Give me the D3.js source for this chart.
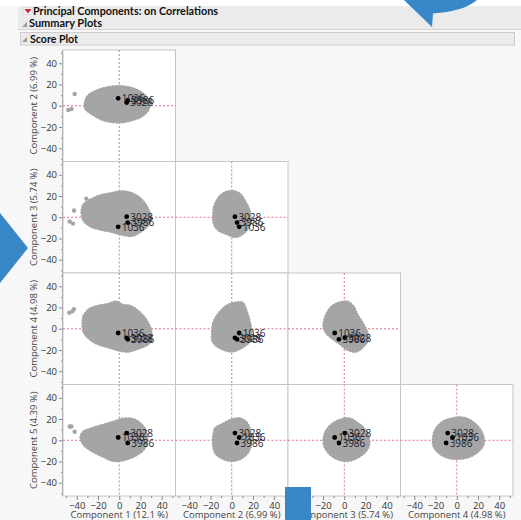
<!DOCTYPE html>
<html>
<head>
<meta charset="utf-8">
<script src="https://cdn.jsdelivr.net/npm/d3@7"></script>
<style>
  html, body { margin: 0; padding: 0; background: #ffffff; }
  svg { display: block; font-family: "Open Sans", "Noto Sans", sans-serif; }
</style>
</head>
<body>
<svg id="chart" width="521" height="520"></svg>
<script>
// Principal component names and explained variance
const components = ["Component 1", "Component 2", "Component 3", "Component 4", "Component 5"];
const explained = ["12.1 %", "6.99 %", "5.74 %", "4.98 %", "4.39 %"];

// Axis ticks
const majorTicks = [-40, -20, 0, 20, 40];
const minorTicks = [-50, -30, -10, 10, 30, 50];

// Labelled rows and their scores on components 1..5
const labelIds = ["1036", "3028", "3986"];
const score1 = [-1, 7, 8];
const score2 = [7, 3, 5];
const score3 = [-9, 0.5, -5];
const score4 = [-4, -8.5, -10];
const score5 = [2.6, 6.8, -2.6];
const scores = [score1, score2, score3, score4, score5];

// Outline of the bulk of the score cloud for each pair (x component, y component)
const cloud12 = [[-32, 2], [-30, 8], [-25, 12], [-18, 15], [-10, 17], [0, 18], [8, 17], [15, 15], [22, 11], [27, 5], [28, 0], [26, -5], [20, -10], [12, -13], [3, -15], [-5, -15], [-15, -13], [-23, -9], [-29, -5], [-32, -2]];
const cloud13 = [[-35, 5], [-33, 12], [-27, 16], [-18, 20], [-8, 22], [2, 24], [12, 22], [20, 17], [26, 9], [29, 0], [27, -7], [20, -13], [12, -17], [3, -16], [-8, -13], [-18, -11], [-27, -8], [-33, -3]];
const cloud14 = [[-34, 5], [-33, 12], [-28, 18], [-20, 21], [-10, 23], [-3, 25], [3, 22], [10, 21], [18, 16], [25, 8], [29, 0], [30, -8], [27, -14], [18, -18], [8, -21], [0, -20], [-10, -17], [-20, -14], [-28, -9], [-33, -3]];
const cloud15 = [[-36, 3], [-33, 8], [-25, 11], [-15, 14], [-5, 17], [5, 20], [14, 19], [20, 15], [25, 8], [26, 0], [23, -8], [15, -14], [5, -18], [-5, -19], [-15, -15], [-25, -10], [-33, -4]];
const cloud23 = [[-17, 0], [-16, 10], [-12, 18], [-6, 23], [2, 24], [8, 21], [12, 15], [16, 7], [17, -2], [15, -10], [9, -16], [3, -18], [-5, -15], [-12, -12], [-16, -7]];
const cloud24 = [[-18, -5], [-17, 5], [-12, 14], [-5, 21], [3, 24], [10, 24], [13, 18], [16, 8], [18, -3], [16, -12], [10, -17], [0, -21], [-8, -19], [-15, -15], [-18, -10]];
const cloud25 = [[-17, 3], [-15, 11], [-8, 15], [0, 19], [8, 20], [14, 16], [17, 8], [18, -2], [15, -11], [8, -17], [0, -19], [-8, -17], [-15, -12], [-17, -5]];
const cloud34 = [[-19, 3], [-17, 12], [-12, 20], [-5, 24], [3, 25], [8, 21], [12, 13], [17, 5], [21, -3], [22, -10], [18, -16], [11, -21], [3, -19], [-5, -13], [-12, -8], [-17, -3]];
const cloud35 = [[-19, 0], [-17, 8], [-11, 15], [-3, 19], [5, 20], [12, 16], [18, 11], [22, 4], [23, -4], [19, -11], [10, -17], [2, -19], [-7, -17], [-14, -12], [-18, -6]];
const cloud45 = [[-22, 0], [-20, 9], [-13, 17], [-4, 20], [5, 21], [13, 18], [20, 12], [24, 5], [25, -3], [20, -10], [12, -15], [2, -17], [-8, -16], [-16, -12], [-21, -6]];

// Isolated points outside the bulk of each cloud
const outliers12 = [[-42, 11], [-48, -4], [-45, -3]];
const outliers13 = [[-42.6, 6.4], [-46.7, -4], [-43.6, -6], [-31, 17.5]];
const outliers14 = [[-47, 15], [-42.6, 18.5], [-44, 16.5]];
const outliers15 = [[-46.7, 13], [-45, 13], [-42, 8]];

const panels = [
  { col: 0, row: 0, xi: 0, yi: 1, cloud: cloud12, extra: outliers12 },
  { col: 0, row: 1, xi: 0, yi: 2, cloud: cloud13, extra: outliers13 },
  { col: 1, row: 1, xi: 1, yi: 2, cloud: cloud23, extra: [] },
  { col: 0, row: 2, xi: 0, yi: 3, cloud: cloud14, extra: outliers14 },
  { col: 1, row: 2, xi: 1, yi: 3, cloud: cloud24, extra: [] },
  { col: 2, row: 2, xi: 2, yi: 3, cloud: cloud34, extra: [] },
  { col: 0, row: 3, xi: 0, yi: 4, cloud: cloud15, extra: outliers15 },
  { col: 1, row: 3, xi: 1, yi: 4, cloud: cloud25, extra: [] },
  { col: 2, row: 3, xi: 2, yi: 4, cloud: cloud35, extra: [] },
  { col: 3, row: 3, xi: 3, yi: 4, cloud: cloud45, extra: [] }
];

const svg = d3.select("#chart");
const W = 521, H = 520;

// ---- window chrome ----
svg.append("rect").attr("x", 0).attr("y", 0).attr("width", W).attr("height", H).attr("fill", "#f7f7f7");
svg.append("rect").attr("x", 0).attr("y", 0).attr("width", W).attr("height", 6).attr("fill", "#ffffff");
svg.append("rect").attr("x", 18).attr("y", 6).attr("width", W - 18).attr("height", 23).attr("fill", "#ebebeb");
svg.append("line").attr("x1", 18).attr("x2", W).attr("y1", 29.5).attr("y2", 29.5).attr("stroke", "#d4d4d4");
svg.append("rect").attr("x", 20.5).attr("y", 32.5).attr("width", 494).attr("height", 12.5)
  .attr("fill", "#ebebeb").attr("stroke", "#cccccc");

// red menu triangle
svg.append("rect").attr("x", 23.5).attr("y", 7.5).attr("width", 9).attr("height", 7).attr("rx", 1)
  .attr("fill", "#f4f4f4").attr("stroke", "#d0d0d0").attr("stroke-width", 0.6);
svg.append("path").attr("d", "M24.5,9 L31.5,9 L28,13.5 Z").attr("fill", "#d8262b");
// disclosure triangles
svg.append("path").attr("d", "M22,27 L27,27 L27,22 Z").attr("fill", "#9a9a9a");
svg.append("path").attr("d", "M22,42 L27,42 L27,37 Z").attr("fill", "#9a9a9a");

const header = svg.append("g").attr("font-weight", "bold").attr("fill", "#111")
  .attr("font-size", 11).attr("font-family", "Lato, 'Open Sans', sans-serif");
header.append("text").attr("x", 33).attr("y", 14.5)
  .attr("textLength", 185).attr("lengthAdjust", "spacingAndGlyphs")
  .text("Principal Components: on Correlations");
header.append("text").attr("x", 29).attr("y", 27)
  .attr("textLength", 73).attr("lengthAdjust", "spacingAndGlyphs")
  .text("Summary Plots");
header.append("text").attr("x", 30).attr("y", 42.5)
  .attr("textLength", 48).attr("lengthAdjust", "spacingAndGlyphs")
  .text("Score Plot");

// ---- scatterplot matrix ----
const x0 = 63, y0 = 50, cw = 112.5, ch = 111.5;
const gray = "#a5a5a5";
const refColor = "#e8707e";

function xScale(col) {
  return d3.scaleLinear().domain([-53, 53]).range([x0 + col * cw, x0 + (col + 1) * cw]);
}
function yScale(row) {
  return d3.scaleLinear().domain([-52.5, 52.5]).range([y0 + (row + 1) * ch, y0 + row * ch]);
}

panels.forEach(p => {
  const xs = xScale(p.col), ys = yScale(p.row);
  const g = svg.append("g");
  const left = xs.range()[0], right = xs.range()[1];
  const top = ys.range()[1], bottom = ys.range()[0];

  g.append("rect").attr("x", left).attr("y", top).attr("width", cw).attr("height", ch)
    .attr("fill", "#ffffff").attr("stroke", "#c6c6c6");

  // reference lines at zero
  g.append("line").attr("x1", xs(0)).attr("x2", xs(0)).attr("y1", top).attr("y2", bottom)
    .attr("stroke", refColor).attr("stroke-dasharray", "2,2");
  g.append("line").attr("x1", left).attr("x2", right).attr("y1", ys(0)).attr("y2", ys(0))
    .attr("stroke", refColor).attr("stroke-dasharray", "2,2");

  // score cloud
  const line = d3.line().x(d => xs(d[0])).y(d => ys(d[1])).curve(d3.curveCatmullRomClosed);
  g.append("path").attr("d", line(p.cloud)).attr("fill", gray)
    .attr("stroke", gray).attr("stroke-width", 3.6)
    .attr("stroke-dasharray", "0.1 3").attr("stroke-linecap", "round");
  g.selectAll("circle.out").data(p.extra).join("circle").attr("class", "out")
    .attr("cx", d => xs(d[0])).attr("cy", d => ys(d[1])).attr("r", 2.2).attr("fill", gray);

  // labelled rows
  const pts = labelIds.map((id, i) => ({ id, x: scores[p.xi][i], y: scores[p.yi][i] }));
  g.selectAll("circle.lab").data(pts).join("circle").attr("class", "lab")
    .attr("cx", d => xs(d.x)).attr("cy", d => ys(d.y)).attr("r", 2.4).attr("fill", "#000");
  g.selectAll("text.lab").data(pts).join("text").attr("class", "lab")
    .attr("x", d => xs(d.x) + 3.5).attr("y", d => ys(d.y) + 3.8)
    .attr("font-size", 10).attr("fill", "#1c1c2c").text(d => d.id);
});

// ---- axes ----
const tickColor = "#8a8a8a";
const labelColor = "#333";
for (let r = 0; r < 4; r++) {
  const ys = yScale(r);
  const ax = svg.append("g").attr("transform", `translate(${x0},0)`);
  ax.call(d3.axisLeft(ys).tickValues(majorTicks).tickSize(4).tickPadding(2).tickFormat(d3.format("d")));
  const mn = svg.append("g").attr("transform", `translate(${x0},0)`);
  mn.call(d3.axisLeft(ys).tickValues(minorTicks).tickSize(2).tickFormat(""));
  [ax, mn].forEach(a => {
    a.select(".domain").remove();
    a.selectAll("line").attr("stroke", tickColor);
  });
  ax.selectAll("text").attr("font-size", 9.5).attr("fill", labelColor).attr("font-family", "'Open Sans', sans-serif");
  const cy = (ys.range()[0] + ys.range()[1]) / 2;
  svg.append("text").attr("transform", `translate(37,${cy}) rotate(-90)`)
    .attr("text-anchor", "middle").attr("font-size", 9.5).attr("fill", "#444")
    .text(`${components[r + 1]}  (${explained[r + 1]})`);
}
svg.append("line").attr("x1", x0 - 0.5).attr("x2", x0 - 0.5).attr("y1", y0).attr("y2", y0 + 4 * ch)
  .attr("stroke", "#b0b0b0");

const yb = y0 + 4 * ch;
for (let c = 0; c < 4; c++) {
  const xs = xScale(c);
  const ax = svg.append("g").attr("transform", `translate(0,${yb})`);
  ax.call(d3.axisBottom(xs).tickValues(majorTicks).tickSize(4).tickPadding(2).tickFormat(d3.format("d")));
  const mn = svg.append("g").attr("transform", `translate(0,${yb})`);
  mn.call(d3.axisBottom(xs).tickValues(minorTicks).tickSize(2).tickFormat(""));
  [ax, mn].forEach(a => {
    a.select(".domain").remove();
    a.selectAll("line").attr("stroke", tickColor);
  });
  ax.selectAll("text").attr("font-size", 9.5).attr("fill", labelColor).attr("font-family", "'Open Sans', sans-serif");
  const cx = (xs.range()[0] + xs.range()[1]) / 2;
  svg.append("text").attr("x", cx).attr("y", 518).attr("text-anchor", "middle")
    .attr("font-size", 9.5).attr("fill", "#444")
    .text(`${components[c]}  (${explained[c]})`);
}

// ---- callout markers ----
const blue = "#3787c9";
svg.append("path").attr("d", "M404,0 L477,0 C468,8 452,12 433,13.5 L432,27 Z").attr("fill", blue);
svg.append("path").attr("d", "M0,213 L28,248 L0,283 Z").attr("fill", blue);
svg.append("rect").attr("x", 285).attr("y", 487).attr("width", 26).attr("height", 33).attr("fill", blue);
</script>
</body>
</html>
